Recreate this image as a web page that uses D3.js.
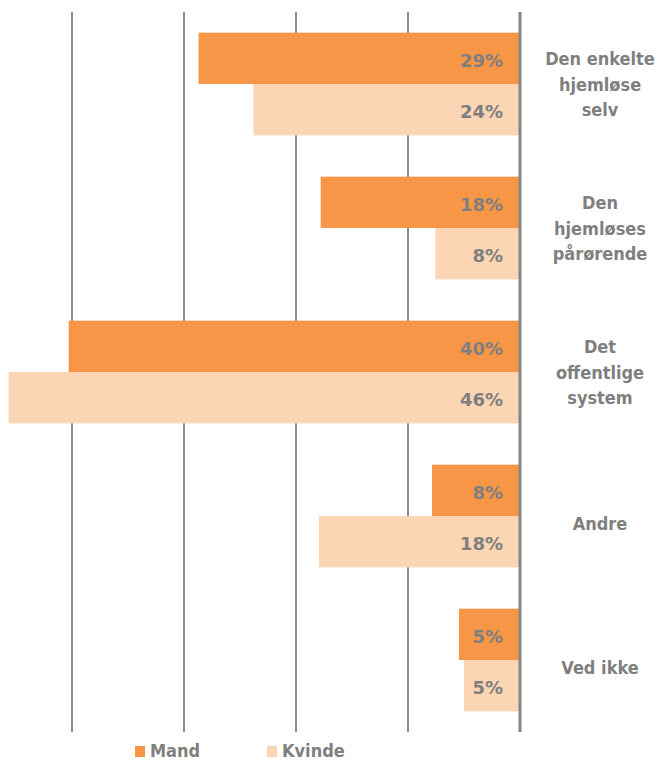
<!DOCTYPE html>
<html>
<head>
<meta charset="utf-8">
<script src="https://cdn.jsdelivr.net/npm/d3@7"></script>
<style>
  html, body { margin: 0; padding: 0; background: #fff; }
  svg { display: block; }
  .val { font-family: "DejaVu Sans", Verdana, sans-serif; font-weight: bold; font-size: 18px; fill: #7f7f7f; }
  .cat, .leg { font-family: "DejaVu Sans Condensed", "DejaVu Sans", sans-serif; font-stretch: condensed; font-weight: bold; font-size: 18px; fill: #7f7f7f; }
</style>
</head>
<body>
<svg id="chart" width="658" height="761"></svg>
<script>
const categories = [
  ["Den enkelte", "hjemløse", "selv"],
  ["Den", "hjemløses", "pårørende"],
  ["Det", "offentlige", "system"],
  ["Andre"],
  ["Ved ikke"]
];
const seriesNames = ["Mand", "Kvinde"];
const mandValues = [0.287, 0.178, 0.403, 0.0786, 0.0545];
const kvindeValues = [0.238, 0.0756, 0.4565, 0.1795, 0.05];
const gridTicks = [0.1, 0.2, 0.3, 0.4];
const colors = ["#F79646", "#FCD5B5"];

const svg = d3.select("#chart");
const catKeys = categories.map(c => c.join(" "));

const x = d3.scaleLinear().domain([0, 0.4]).range([520, 72]);
const y = d3.scaleBand().domain(catKeys).range([12, 732]).paddingInner(0.287).paddingOuter(0.1435);
const ySub = d3.scaleBand().domain(seriesNames).range([0, y.bandwidth()]);
const color = d3.scaleOrdinal().domain(seriesNames).range(colors);

const rows = [];
catKeys.forEach((k, i) => {
  rows.push({cat: k, series: "Mand", v: mandValues[i]});
  rows.push({cat: k, series: "Kvinde", v: kvindeValues[i]});
});

// gridlines
svg.append("g").selectAll("line").data(gridTicks).join("line")
  .attr("x1", d => x(d)).attr("x2", d => x(d))
  .attr("y1", y.range()[0]).attr("y2", y.range()[1])
  .attr("stroke", "#8c8c8c").attr("stroke-width", 2);

// bars
svg.append("g").selectAll("rect").data(rows).join("rect")
  .attr("x", d => x(d.v))
  .attr("width", d => x(0) - x(d.v))
  .attr("y", d => y(d.cat) + ySub(d.series))
  .attr("height", ySub.bandwidth())
  .attr("fill", d => color(d.series));

// axis line
svg.append("line")
  .attr("x1", x(0)).attr("x2", x(0))
  .attr("y1", y.range()[0]).attr("y2", y.range()[1])
  .attr("stroke", "#868686").attr("stroke-width", 3);

// value labels
const fmt = d3.format(".0%");
svg.append("g").selectAll("text").data(rows).join("text")
  .attr("class", "val")
  .attr("text-anchor", "end")
  .attr("x", x(0) - 17)
  .attr("y", d => y(d.cat) + ySub(d.series) + ySub.bandwidth() / 2 + 8.5)
  .text(d => fmt(d.v));

// category labels
const lineH = 25.5;
const catG = svg.append("g");
categories.forEach((lines, i) => {
  const c = y(catKeys[i]) + y.bandwidth() / 2;
  const n = lines.length;
  const first = c - (n - 1) / 2 * lineH + 6.5 + (n === 1 ? 7.5 : 0);
  const t = catG.append("text").attr("class", "cat").attr("text-anchor", "middle");
  lines.forEach((ln, j) => {
    t.append("tspan").attr("x", 600).attr("y", first + j * lineH).text(ln);
  });
});

// legend
const legX = [135, 267];
const leg = svg.append("g");
seriesNames.forEach((s, i) => {
  leg.append("rect").attr("x", legX[i]).attr("y", 746).attr("width", 10).attr("height", 11).attr("fill", color(s));
  leg.append("text").attr("class", "leg").attr("x", legX[i] + 15).attr("y", 757).text(s);
});
</script>
</body>
</html>
